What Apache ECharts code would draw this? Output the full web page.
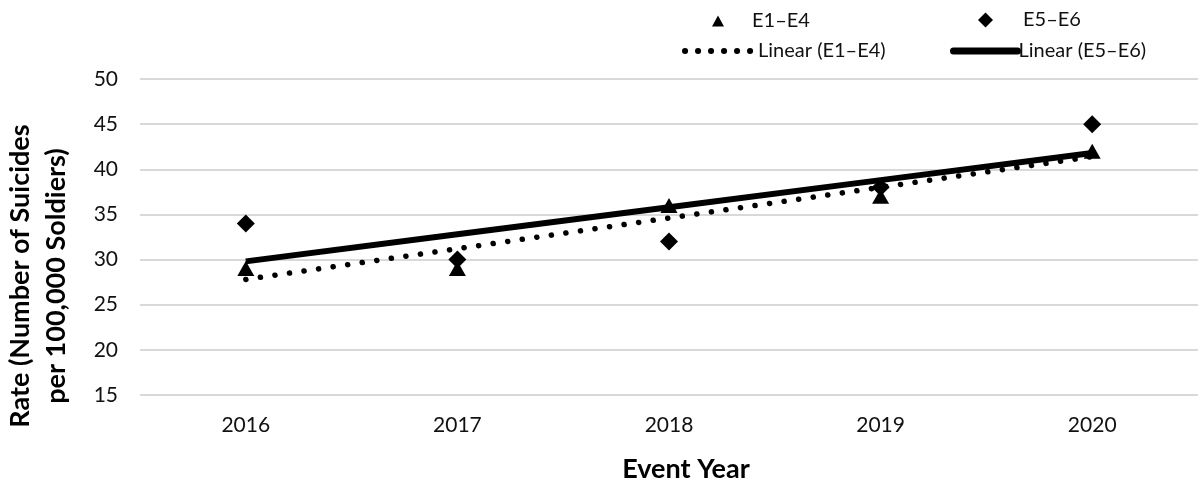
<!DOCTYPE html>
<html>
<head>
<meta charset="utf-8">
<script src="https://cdn.jsdelivr.net/npm/echarts@6/dist/echarts.min.js"></script>
<style>html,body{margin:0;padding:0;background:#fff}#c{width:1198px;height:485px}</style>
</head>
<body>
<div id="c"></div>
<script>
const years = ['2016', '2017', '2018', '2019', '2020'];
const e1e4 = [29, 29, 36, 37, 42];
const e5e6 = [34, 30, 32, 38, 45];
const yTicks = { min: 15, max: 50, interval: 5 };

// Excel-style linear trendline (least squares over category index)
function linearTrend(vals) {
  const n = vals.length;
  let sx = 0, sy = 0, sxy = 0, sxx = 0;
  vals.forEach((v, i) => { const x = i + 1; sx += x; sy += v; sxy += x * v; sxx += x * x; });
  const b = (n * sxy - sx * sy) / (n * sxx - sx * sx);
  const a = (sy - b * sx) / n;
  return vals.map((_, i) => +(a + b * (i + 1)).toFixed(4));
}
const trend1 = linearTrend(e1e4);
const trend2 = linearTrend(e5e6);

const FONT = 'Lato, "Open Sans", sans-serif';
const chart = echarts.init(document.getElementById('c'));
const legText = { fontFamily: FONT, fontSize: 20, color: '#111' };
const noSym = { opacity: 0 };
chart.setOption({
  animation: false,
  grid: { left: 140, top: 79, width: 1064, height: 316 },
  legend: [
    { data: ['E1–E4'], left: 707, top: 6, itemWidth: 12, itemHeight: 11, icon: 'triangle',
      textStyle: Object.assign({ padding: [0, 0, 0, 23] }, legText) },
    { data: ['E5–E6'], left: 973, top: 5, itemWidth: 15, itemHeight: 15, icon: 'diamond',
      textStyle: Object.assign({ padding: [0, 0, 0, 25] }, legText) },
    { data: ['Linear (E1–E4)'], left: 677, top: 36, itemWidth: 66, itemHeight: 20,
      lineStyle: { width: 6, type: [0.1, 12.9], cap: 'round' }, itemStyle: noSym,
      textStyle: Object.assign({ padding: [0, 0, 0, 2] }, legText) },
    { data: ['Linear (E5–E6)'], left: 945, top: 36, itemWidth: 64, itemHeight: 20,
      lineStyle: { width: 7, cap: 'round' }, itemStyle: noSym,
      textStyle: Object.assign({ padding: [0, 0, 0, -4] }, legText) }
  ],
  xAxis: {
    type: 'category', data: years, boundaryGap: true,
    axisLine: { show: false }, axisTick: { show: false },
    axisLabel: { fontFamily: FONT, fontSize: 21, color: '#111', margin: 20 }
  },
  yAxis: {
    type: 'value', min: yTicks.min, max: yTicks.max, interval: yTicks.interval,
    axisLine: { show: false }, axisTick: { show: false },
    axisLabel: { fontFamily: FONT, fontSize: 21, color: '#111', margin: 22 },
    splitLine: { lineStyle: { color: '#d9d9d9', width: 2 } }
  },
  graphic: [
    { type: 'text', x: 686, y: 469, style: { text: 'Event Year', font: 'bold 27px ' + FONT, fill: '#000', textAlign: 'center', textVerticalAlign: 'middle' } },
    { type: 'text', x: 38, y: 276, rotation: Math.PI / 2,
      style: { text: 'Rate (Number of Suicides\nper 100,000 Soldiers)', font: 'bold 27px ' + FONT, lineHeight: 36, fill: '#000', textAlign: 'center', textVerticalAlign: 'middle' } }
  ],
  series: [
    { name: 'Linear (E1–E4)', type: 'line', data: trend1, symbol: 'none', z: 3,
      lineStyle: { color: '#000', width: 5.5, type: [0.1, 14.6], cap: 'round' }, itemStyle: { color: '#000' } },
    { name: 'Linear (E5–E6)', type: 'line', data: trend2, symbol: 'none', z: 3,
      lineStyle: { color: '#000', width: 6, cap: 'butt' }, itemStyle: { color: '#000' } },
    { name: 'E1–E4', type: 'scatter', data: e1e4, symbol: 'triangle', symbolSize: [17, 15], z: 4,
      itemStyle: { color: '#000', opacity: 1 } },
    { name: 'E5–E6', type: 'scatter', data: e5e6, symbol: 'diamond', symbolSize: 18, z: 4,
      itemStyle: { color: '#000', opacity: 1 } }
  ]
});
</script>
</body>
</html>
